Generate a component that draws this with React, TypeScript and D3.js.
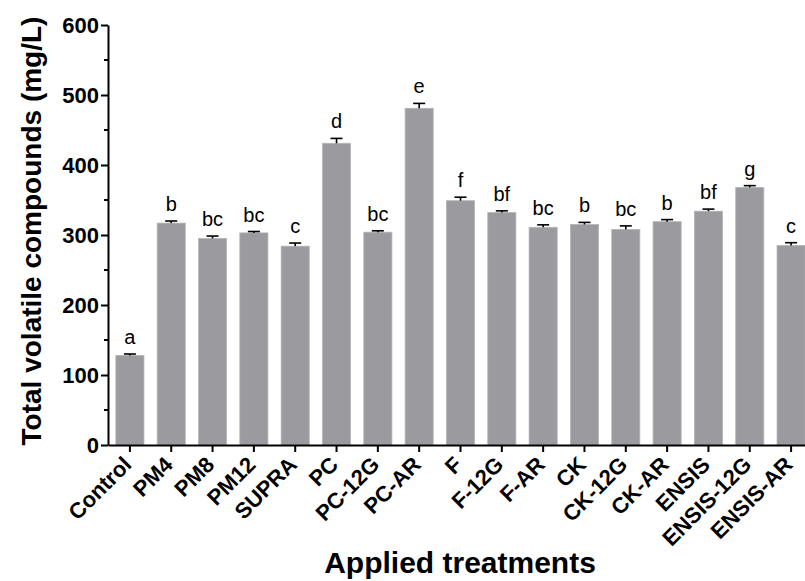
import React, { useEffect, useRef } from "react";
import * as d3 from "d3";

const categories = [
  "Control", "PM4", "PM8", "PM12", "SUPRA", "PC", "PC-12G", "PC-AR", "F",
  "F-12G", "F-AR", "CK", "CK-12G", "CK-AR", "ENSIS", "ENSIS-12G", "ENSIS-AR",
];
const means = [128, 317, 295, 303, 284, 431, 304, 481, 349, 332, 311, 315, 308, 319, 334, 368, 285];
const errors = [2, 3, 3.5, 2, 4.5, 7, 2, 7, 5, 2.5, 3.5, 3, 5, 3, 3, 2.5, 4];
const letters = ["a", "b", "bc", "bc", "c", "d", "bc", "e", "f", "bf", "bc", "b", "bc", "b", "bf", "g", "c"];
const yTicks = [0, 100, 200, 300, 400, 500, 600];
const yMinor = [50, 150, 250, 350, 450, 550];

const W = 805;
const H = 581;
const FONT = "Arial, 'Liberation Sans', sans-serif";

const App = () => {
  const ref = useRef<SVGSVGElement>(null);

  useEffect(() => {
    if (!ref.current) return;
    const svg = d3.select(ref.current);
    svg.selectAll("*").remove();

    const x = d3.scaleBand<string>()
      .domain(categories)
      .range([108, 813])
      .paddingInner(0.32)
      .paddingOuter(0.19);
    const y = d3.scaleLinear().domain([0, 600]).range([445, 25]);

    const rows = categories.map((c, i) => ({ c, v: means[i], e: errors[i], l: letters[i] }));

    // bars
    svg.append("g")
      .selectAll("rect")
      .data(rows)
      .join("rect")
      .attr("x", (d) => x(d.c)!)
      .attr("width", x.bandwidth())
      .attr("y", (d) => y(d.v))
      .attr("height", (d) => y(0) - y(d.v))
      .attr("fill", "#9a9a9f")
      .attr("stroke", "#b4b4b8")
      .attr("stroke-width", 0.8);

    // error bars (upper only)
    const eb = svg.append("g").attr("stroke", "#000").attr("stroke-width", 1.6);
    rows.forEach((d) => {
      const cx = x(d.c)! + x.bandwidth() / 2;
      eb.append("line").attr("x1", cx).attr("x2", cx).attr("y1", y(d.v)).attr("y2", y(d.v + d.e));
      eb.append("line").attr("x1", cx - 6).attr("x2", cx + 6).attr("y1", y(d.v + d.e)).attr("y2", y(d.v + d.e));
    });

    // significance letters
    svg.append("g")
      .selectAll("text")
      .data(rows)
      .join("text")
      .attr("x", (d) => x(d.c)! + x.bandwidth() / 2)
      .attr("y", (d) => y(d.v + d.e) - 10)
      .attr("text-anchor", "middle")
      .attr("font-family", FONT)
      .attr("font-size", 20)
      .text((d) => d.l);

    // y axis
    const yAxis = svg.append("g")
      .attr("transform", "translate(108,0)")
      .call(d3.axisLeft(y).tickValues(yTicks).tickSize(7).tickPadding(2).tickSizeOuter(0));
    yAxis.select(".domain").attr("stroke-width", 2);
    yAxis.selectAll(".tick line").attr("stroke-width", 2);
    yAxis.selectAll(".tick text")
      .attr("font-family", FONT)
      .attr("font-size", 22)
      .attr("font-weight", "bold")
      .attr("fill", "#000");
    yAxis.selectAll(".minor")
      .data(yMinor)
      .join("line")
      .attr("class", "minor")
      .attr("x1", -4)
      .attr("x2", 0)
      .attr("y1", (d) => y(d))
      .attr("y2", (d) => y(d))
      .attr("stroke", "#000")
      .attr("stroke-width", 2);

    // x axis
    const xAxis = svg.append("g")
      .attr("transform", "translate(0,445)")
      .call(d3.axisBottom(x).tickSize(7).tickSizeOuter(0));
    xAxis.select(".domain").attr("stroke-width", 2);
    xAxis.selectAll(".tick line").attr("stroke-width", 2);
    xAxis.selectAll(".tick text")
      .attr("font-family", FONT)
      .attr("font-size", 22)
      .attr("font-weight", "bold")
      .attr("fill", "#000")
      .attr("text-anchor", "end")
      .attr("dy", null)
      .attr("y", 0)
      .attr("transform", "translate(3,21) rotate(-45)");

    // axis titles
    svg.append("text")
      .attr("transform", `translate(41,${231}) rotate(-90)`)
      .attr("text-anchor", "middle")
      .attr("font-family", FONT)
      .attr("font-size", 28)
      .attr("font-weight", "bold")
      .text("Total volatile compounds (mg/L)");
    svg.append("text")
      .attr("x", 460)
      .attr("y", 573)
      .attr("text-anchor", "middle")
      .attr("font-family", FONT)
      .attr("font-size", 30)
      .attr("font-weight", "bold")
      .text("Applied treatments");
  }, []);

  return (
    <svg
      ref={ref}
      width={W}
      height={H}
      style={{ position: "absolute", left: 0, top: 0, background: "#fff" }}
    />
  );
};

export default App;
